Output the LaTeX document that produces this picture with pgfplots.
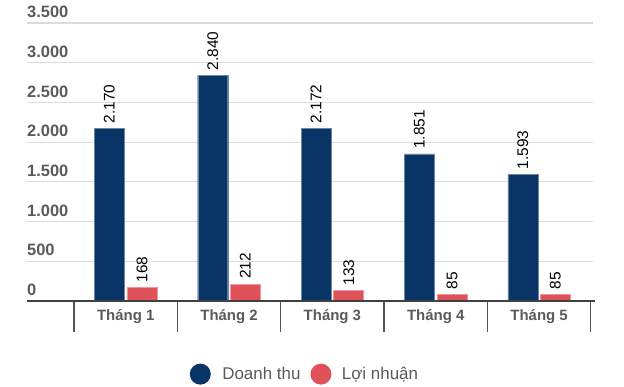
\documentclass[border=0pt]{standalone}
\usepackage{pgfplots}
\pgfplotsset{compat=1.18}
\usepackage{fontspec}
\setmainfont{Liberation Sans}
\definecolor{navy}{HTML}{083466}
\definecolor{redb}{HTML}{E0525A}
\definecolor{lab}{HTML}{5A5A5A}
\definecolor{axisc}{HTML}{404040}
\begin{document}
\begin{tikzpicture}[x=1bp,y=1bp]
\path[use as bounding box] (0,0) rectangle (624,386);
\begin{axis}[
  at={(27bp,85bp)}, anchor=south west,
  scale only axis, width=566bp, height=278bp,
  xmin=-0.955, xmax=4.522, ymin=0, ymax=3500,
  clip=false,
  ybar=2.6bp, bar width=30bp,
  axis line style={draw=none},
  scaled y ticks=false,
  ytick={0,500,...,3500},
  ymajorgrids, grid style={draw=black!14, line width=1.2bp},
  ytick style={draw=none},
  yticklabel style={anchor=south west, inner sep=0pt, xshift=31bp, yshift=5bp,
     font=\bfseries\fontsize{16.5}{18}\selectfont, text=lab},
  xtick={-0.5,0.5,1.5,2.5,3.5,4.5},
  xticklabels={},
  xtick pos=bottom,
  tick align=outside,
  major tick length=31bp,
  xtick style={draw=axisc!90, line width=1.2bp},
  extra x ticks={0,1,2,3,4},
  extra x tick labels={Tháng 1,Tháng 2,Tháng 3,Tháng 4,Tháng 5},
  extra x tick style={major tick length=0pt, xticklabel style={yshift=-5bp}},
  xticklabel style={font=\bfseries\fontsize{15}{17}\selectfont, text=lab},
  legend columns=2,
  legend style={at={(axis description cs:0.491,-0.263)}, anchor=center, draw=none,
     font=\fontsize{17}{19}\selectfont, text=lab,
     /tikz/every even column/.append style={column sep=8bp}},
  nodes near coords,
  every node near coord/.append style={rotate=90, anchor=west, inner xsep=5bp, inner ysep=0pt,
     font=\fontsize{15.5}{17}\selectfont, text=black},
  /pgf/number format/1000 sep={.},
  /pgf/number format/assume math mode=true,
]
\addplot[fill=navy, draw=navy!60!white, line width=0.4bp,
  legend image code/.code={\fill[navy, draw=none] (0bp,0bp) circle (10.5bp); \path[draw=none, fill=none] (10.5bp,0bp) -- (20bp,0bp);}]
  coordinates {(0,2170) (1,2840) (2,2172) (3,1851) (4,1593)};
\addlegendentry{Doanh thu}
\addplot[fill=redb, draw=redb!60!white, line width=0.4bp,
  legend image code/.code={\fill[redb, draw=none] (0bp,0bp) circle (10.5bp); \path[draw=none, fill=none] (10.5bp,0bp) -- (19bp,0bp);}]
  coordinates {(0,168) (1,212) (2,133) (3,85) (4,85)};
\addlegendentry{Lợi nhuận}
\draw[axisc, line width=2bp] (axis cs:-0.955,0) -- (axis cs:4.54,0);
\end{axis}
\end{tikzpicture}
\end{document}
